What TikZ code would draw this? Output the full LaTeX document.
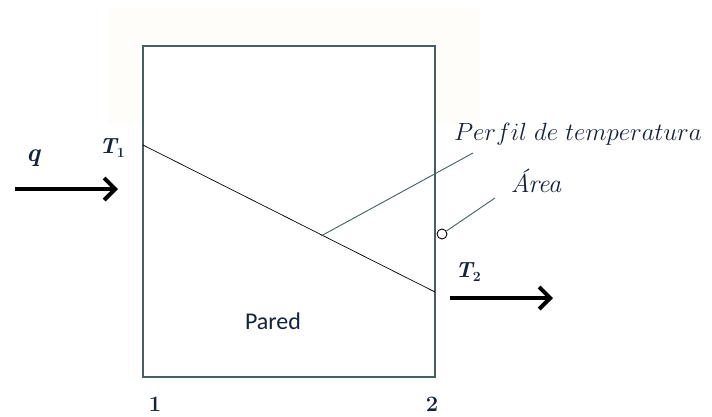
\documentclass[tikz,border=0pt]{standalone}
\usepackage{fontspec}
\newfontfamily\calib{Carlito}
\usetikzlibrary{arrows.meta}
\definecolor{wall}{RGB}{70,95,98}
\definecolor{txt}{RGB}{20,35,60}
\definecolor{cream}{RGB}{255,253,249}
\newcommand{\tsub}[2]{{\itshape #1}\raisebox{-4pt}{\fontsize{14}{14}\selectfont #2}}
\begin{document}
\begin{tikzpicture}[x=1pt,y=-1pt,
  bigarrow/.style={line width=4.5pt,-{Straight Barb[length=11pt,width=22pt,line width=4pt]}},
  lbl/.style={text=txt,inner sep=0pt},
  thinline/.style={line width=0.9pt,draw=wall}]
\useasboundingbox (0,0) rectangle (712,416);
\fill[cream] (108,8) rectangle (480,125);
\draw[draw=wall,line width=2pt,fill=white] (143,46) rectangle (435,377);
\coordinate (p1) at (143,145);
\coordinate (p2) at (435,292);
\draw[line width=0.7pt,black] (p1) -- (p2);
% labels
\node[lbl,font=\fontsize{26}{26}\selectfont\bfseries\itshape] (q) at (33,158) {q};
\node[lbl,font=\fontsize{22}{22}\selectfont\bfseries] (t1) at (112,148) {\tsub{T}{1}};
\node[lbl,font=\fontsize{22}{22}\selectfont\bfseries] (t2) at (468,272) {\tsub{T}{2}};
\node[lbl,font=\fontsize{24}{24}\selectfont] (perf) at (578,134) {$Perfil\ de\ temperatura$};
\node[lbl,font=\fontsize{26}{26}\selectfont\itshape] (area) at (536,181) {Área};
\node[lbl,font=\calib\fontsize{24}{24}\selectfont] (pared) at (273,321) {Pared};
\node[lbl,font=\fontsize{22}{22}\selectfont\bfseries] (n1) at (155,404) {1};
\node[lbl,font=\fontsize{22}{22}\selectfont\bfseries] (n2) at (432,404) {2};
% arrows
\coordinate (a1s) at (15,189);
\coordinate (a1e) at (118,189);
\draw[bigarrow] (a1s) -- (a1e);
\coordinate (a2s) at (450,298);
\coordinate (a2e) at (553,298);
\draw[bigarrow] (a2s) -- (a2e);
% leaders
\coordinate (lp1) at (321,236);
\coordinate (lp2) at (473,153);
\draw[thinline] (lp1) -- (lp2);
\node[circle,draw=black,line width=0.9pt,fill=white,minimum size=10pt,inner sep=0pt] (circ) at (442,234) {};
\coordinate (la2) at (495,198);
\draw[thinline] (circ) -- (la2);
\end{tikzpicture}
\end{document}
